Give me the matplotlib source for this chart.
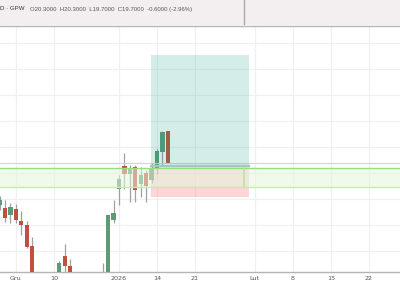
import matplotlib
matplotlib.use("Agg")
import matplotlib.pyplot as plt
from matplotlib.patches import Rectangle
from matplotlib.lines import Line2D

# ---- data ----
bar_idx = list(range(-1, 31))
opens  = [18.89, 18.83, 18.69, 18.81, 18.58, 18.50, 18.10, 17.40, 17.20, 17.05, 17.15,
          17.35, 17.90, 17.71, 17.50, 17.40, 17.30, 17.35, 17.30, 17.40, 17.45, 18.60,
          19.19, 19.63, 19.48, 19.62, 19.29, 19.50, 19.37, 19.60, 19.90, 20.30]
highs  = [19.06, 18.98, 18.92, 18.90, 18.77, 18.58, 18.27, 17.50, 17.35, 17.30, 17.45,
          17.81, 18.13, 17.85, 17.55, 17.50, 17.45, 17.50, 17.52, 17.77, 18.69, 18.98,
          19.46, 19.88, 19.65, 19.65, 19.62, 19.56, 19.69, 19.96, 20.30, 20.30]
lows   = [18.79, 18.56, 18.54, 18.54, 18.31, 18.06, 17.35, 17.10, 17.00, 16.95, 17.05,
          17.30, 17.58, 17.45, 17.30, 17.20, 17.20, 17.25, 17.25, 17.35, 17.40, 18.54,
          18.89, 19.19, 18.94, 18.94, 19.04, 18.94, 19.31, 19.48, 19.65, 19.70]
closes = [18.98, 18.64, 18.85, 18.60, 18.50, 18.08, 17.40, 17.20, 17.05, 17.15, 17.30,
          17.77, 17.71, 17.50, 17.40, 17.30, 17.35, 17.30, 17.40, 17.45, 18.69, 18.73,
          19.39, 19.48, 19.60, 19.17, 19.46, 19.25, 19.60, 19.92, 20.29, 19.70]

tick_pos    = [2, 9, 21, 28, 35, 46, 53, 60, 67]
tick_labels = ["Gru", "10", "2026", "14", "21", "Lut", "8", "15", "22"]

zone_top, zone_bottom = 19.60, 19.23
zone_mark_x = 44.0
pos_start, pos_end = 26.9, 44.9
pos_target, pos_entry, pos_stop = 21.77, 19.635, 19.04
last_close = 19.70

header_sym = "D · GPW"
header_vals = "O20.3000  H20.3000  L19.7000  C19.7000  -0.6000 (-2.96%)"

# ---- figure ----
W, H = 400, 284
fig = plt.figure(figsize=(W / 100, H / 100), dpi=100)
fig.patch.set_facecolor("white")

ax_bottom_px, ax_top_px = 272, 25.5
ax = fig.add_axes([0, (H - ax_bottom_px) / H, 1, (ax_bottom_px - ax_top_px) / H])
ax.set_facecolor("white")
ax.set_xlim(-0.92, 72.74)
ax.set_ylim(17.596, 22.337)

# grid
for yv in [18.0, 18.5, 19.0, 19.5, 20.0, 20.5, 21.0, 21.5, 22.0]:
    ax.axhline(yv, color="#f0f0f2", lw=0.9, zorder=0)
for xv in tick_pos:
    ax.axvline(xv, color="#f0f0f2", lw=0.9, zorder=0)

green_c = "#5e9a75"
red_c = "#c0503f"
wick_c = "#a0a0a0"
bw = 0.78
for k, o, h, l, c in zip(bar_idx, opens, highs, lows, closes):
    col = green_c if c >= o else red_c
    ax.vlines(k, l, h, color=wick_c, lw=0.9, zorder=2)
    ax.add_patch(Rectangle((k - bw / 2, min(o, c)), bw, max(abs(c - o), 0.01),
                           facecolor=col, edgecolor="none", zorder=3))

# last price line
ax.axhline(last_close, color="#f3c6cf", lw=0.8, zorder=4)

# long position tool
ax.add_patch(Rectangle((pos_start, pos_entry), pos_end - pos_start, pos_target - pos_entry,
                       facecolor=(8/255, 153/255, 129/255, 0.17), edgecolor="none", zorder=5))
ax.add_patch(Rectangle((pos_start, pos_stop), pos_end - pos_start, pos_entry - pos_stop,
                       facecolor=(242/255, 54/255, 69/255, 0.2), edgecolor="none", zorder=5))
ax.plot([pos_start, pos_end], [pos_entry, pos_entry], color="#a9c4c6", lw=1.6, zorder=5)

# green zone
ax.axhspan(zone_bottom, zone_top, facecolor=(228/255, 246/255, 219/255, 0.55),
           edgecolor="none", zorder=6)
ax.axhline(zone_top, color="#94e07c", lw=1.0, zorder=7)
ax.axhline(zone_bottom, color="#c2ecb0", lw=1.0, zorder=7)
ax.plot([zone_mark_x, zone_mark_x], [zone_bottom, zone_top], color="#b5e6a0", lw=1.2, zorder=7)

# axes styling
for s in ["top", "left", "right"]:
    ax.spines[s].set_visible(False)
ax.spines["bottom"].set_color("#b4b4b4")
ax.spines["bottom"].set_linewidth(1.0)
ax.set_yticks([])
ax.set_xticks(tick_pos)
ax.set_xticklabels(tick_labels, fontsize=4.6, color="#555555")
ax.tick_params(axis="x", length=0, pad=2.6)

# header bar
fig.patches.append(Rectangle((0, (H - 25) / H), 1, 25 / H, transform=fig.transFigure,
                             facecolor="#f3eff1", edgecolor="none", zorder=0))
fig.lines.append(Line2D([0, 1], [(H - 25.5) / H] * 2, transform=fig.transFigure,
                        color="#b5b5b5", lw=1.0))
fig.lines.append(Line2D([243.5 / W] * 2, [(H - 24) / H, 1], transform=fig.transFigure,
                        color="#a8a8a8", lw=1.0))
fig.text(-0.5 / W, (H - 9) / H, header_sym, fontsize=4.4, color="#333333",
         va="center", ha="left", family="Liberation Sans")
fig.text(29.5 / W, (H - 9) / H, header_vals, fontsize=4.3, color="#555555",
         va="center", ha="left", family="Liberation Sans")

fig.savefig("out.png", dpi=100)
